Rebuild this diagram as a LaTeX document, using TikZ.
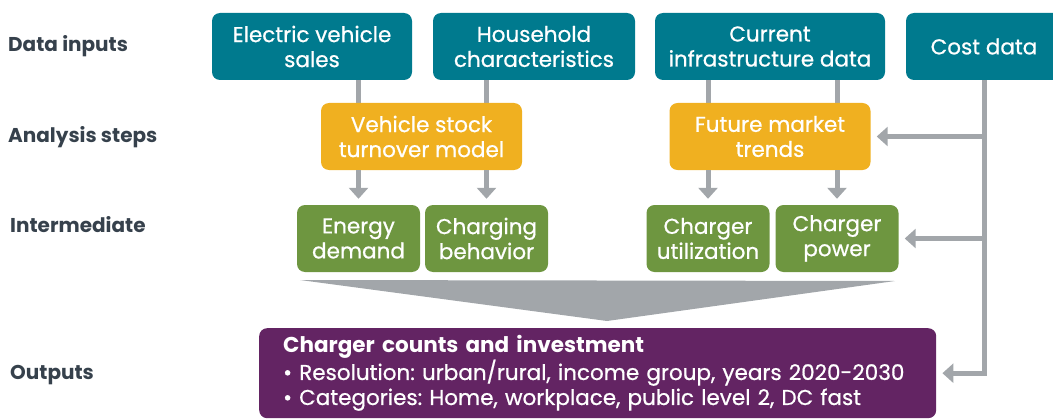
\documentclass[tikz,border=0pt]{standalone}
\usepackage{fontspec}
\setmainfont{Poppins}
\newfontfamily\boxfont{Poppins}[FakeBold=0.7]
\usetikzlibrary{calc,arrows.meta}

\definecolor{inputteal}{HTML}{007A8E}
\definecolor{stepgold}{HTML}{F0B020}
\definecolor{midgreen}{HTML}{6E9640}
\definecolor{outpurple}{HTML}{632463}
\definecolor{linkgray}{HTML}{A2A6AA}
\definecolor{rowslate}{HTML}{36414C}

\begin{document}
\frenchspacing
\begin{tikzpicture}[x=1pt,y=-1pt,
                    box/.style={rounded corners=8pt,text=white,align=center,inner sep=0pt,
                                font={\boxfont\fontsize{21.5}{25}\selectfont}},
                    input/.style={box,fill=inputteal,minimum height=67pt},
                    analysis/.style={box,fill=stepgold,minimum height=67pt,minimum width=201pt},
                    middle/.style={box,fill=midgreen,minimum height=67pt,minimum width=123pt},
                    rowlabel/.style={anchor=west,inner sep=0pt,text=rowslate,font={\fontsize{20}{24}\selectfont\bfseries}},
                    link/.style={draw=linkgray,line width=5pt},
                    linkarrow/.style={link,-{Triangle[width=19pt,length=11pt]},shorten >=6pt}]
            \useasboundingbox (0,0) rectangle (1053,420);

            % row labels
            \node[rowlabel] (rowinputs) at (8,46) {Data inputs};
            \node[rowlabel] (rowsteps) at (8,137) {Analysis steps};
            \node[rowlabel] (rowmid) at (10,225) {Intermediate};
            \node[rowlabel] (rowout) at (10,375) {Outputs};

            % data inputs
            \node[input,minimum width=200pt] (evsales) at (312,46.5) {Electric vehicle\\sales};
            \node[input,minimum width=202pt] (household) at (534,46.5) {Household\\characteristics};
            \node[input,minimum width=230pt] (infra) at (770,46.5) {Current\\infrastructure data};
            \node[input,minimum width=156pt] (cost) at (984,46.5) {Cost data};

            % intermediate
            \node[middle] (energy) at (358.5,238.5) {Energy\\demand};
            \node[middle] (behavior) at (486.5,238.5) {Charging\\behavior};
            \node[middle] (utilization) at (708,238.5) {Charger\\utilization};
            \node[middle] (power) at (837,238.5) {Charger\\power};

            % connectors behind the analysis boxes
            \draw[link] (evsales.south -| energy.north) -- ++(0,30);
            \draw[link] (household.south -| behavior.north) -- ++(0,30);
            \draw[link] (infra.south -| utilization.north) -- ++(0,30);
            \draw[link] (infra.south -| power.north) -- ++(0,30);

            % analysis steps
            \node[analysis] (stock) at (421.5,136.5) {Vehicle stock\\turnover model};
            \node[analysis] (market) at (770,136.5) {Future market\\trends};

            \draw[linkarrow] (stock.south -| energy.north) -- (energy.north);
            \draw[linkarrow] (stock.south -| behavior.north) -- (behavior.north);
            \draw[linkarrow] (market.south -| utilization.north) -- (utilization.north);
            \draw[linkarrow] (market.south -| power.north) -- (power.north);

            % outputs
            \fill[linkgray] (300,280) -- (895,281) -- (607,321) -- cycle;
            \node[box,fill=outpurple,minimum width=677pt,minimum height=90pt,
                  align=left,text width=629pt,anchor=north west,inner xsep=24pt] (output) at (259,328) {
                {\normalfont\bfseries Charger counts and investment}\\
                \textbullet\ Resolution: urban/rural, income group, years 2020-2030\\
                \textbullet\ Categories: Home, workplace, public level 2, DC fast
            };

            % cost data feeds
            \draw[linkarrow] (cost.south) |- (output.east);
            \draw[linkarrow] (cost.south |- market.east) -- (market.east);
            \draw[linkarrow] (cost.south |- power.east) -- (power.east);
        \end{tikzpicture}
\end{document}
